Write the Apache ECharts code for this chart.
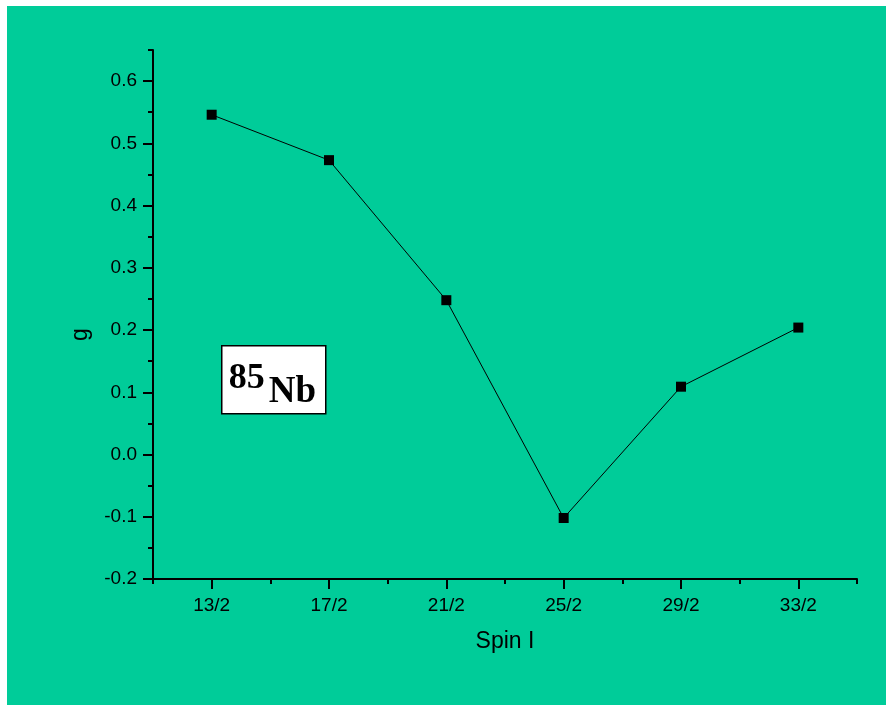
<!DOCTYPE html>
<html>
<head>
<meta charset="utf-8">
<style>
  html, body { margin: 0; padding: 0; background: #ffffff; }
  #chart { position: absolute; left: 7px; top: 6px; width: 879px; height: 699px; }
</style>
<script src="https://cdn.jsdelivr.net/npm/echarts@6/dist/echarts.min.js"></script>
</head>
<body>
<div id="chart"></div>
<script>
// ---- data ----
const categories = ['13/2', '17/2', '21/2', '25/2', '29/2', '33/2'];
const gValues = [0.546, 0.473, 0.248, -0.102, 0.109, 0.204];
const yMajorTicks = [-0.2, -0.1, 0.0, 0.1, 0.2, 0.3, 0.4, 0.5, 0.6];
const yMinorTicks = [-0.15, -0.05, 0.05, 0.15, 0.25, 0.35, 0.45, 0.55, 0.65];
const xMajorTicks = [0, 1, 2, 3, 4, 5];
const xMinorTicks = [-0.5, 0.5, 1.5, 2.5, 3.5, 4.5, 5.5];

const OX = 7, OY = 6; // chart div offset in the page
const chart = echarts.init(document.getElementById('chart'));
const FONT = 'Liberation Sans, Arial, sans-serif';

const option = {
  backgroundColor: '#00CC99',
  animation: false,
  grid: { left: 153 - OX, right: 886 - 857, top: 50 - OY, bottom: 705 - 579, containLabel: false },
  xAxis: [
    {
      type: 'value', min: -0.5, max: 5.5,
      name: 'Spin I', nameLocation: 'middle', nameGap: 51,
      nameTextStyle: { fontFamily: FONT, fontSize: 23, color: '#000' },
      axisLine: { show: true, onZero: false, lineStyle: { color: '#000', width: 2 } },
      axisTick: { show: true, length: 10, customValues: xMajorTicks, lineStyle: { color: '#000', width: 2 } },
      axisLabel: { show: true, customValues: xMajorTicks, margin: 17, fontFamily: FONT, fontSize: 19, color: '#000',
        formatter: v => categories[Math.round(v)] },
      splitLine: { show: false }
    },
    {
      type: 'value', min: -0.5, max: 5.5, position: 'bottom',
      axisLine: { show: false, onZero: false },
      axisTick: { show: true, length: 5, customValues: xMinorTicks, lineStyle: { color: '#000', width: 2 } },
      axisLabel: { show: false },
      splitLine: { show: false }
    }
  ],
  yAxis: [
    {
      type: 'value', min: -0.2, max: 0.65,
      name: 'g', nameLocation: 'middle', nameGap: 61, nameRotate: 90,
      nameTextStyle: { fontFamily: FONT, fontSize: 23, color: '#000', padding: [0, 40, 0, 0] },
      axisLine: { show: true, onZero: false, lineStyle: { color: '#000', width: 2 } },
      axisTick: { show: true, length: 10, customValues: yMajorTicks, lineStyle: { color: '#000', width: 2 } },
      axisLabel: { show: true, customValues: yMajorTicks, margin: 16, fontFamily: FONT, fontSize: 19, color: '#000',
        formatter: v => v.toFixed(1) },
      splitLine: { show: false }
    },
    {
      type: 'value', min: -0.2, max: 0.65, position: 'left',
      axisLine: { show: false, onZero: false },
      axisTick: { show: true, length: 5, customValues: yMinorTicks, lineStyle: { color: '#000', width: 2 } },
      axisLabel: { show: false },
      splitLine: { show: false }
    }
  ],
  series: [
    {
      type: 'line',
      xAxisIndex: 0, yAxisIndex: 0,
      data: gValues.map((v, i) => [i, v]),
      symbol: 'rect', symbolSize: 10,
      itemStyle: { color: '#000' },
      lineStyle: { color: '#000', width: 1 },
      z: 3
    }
  ],
  graphic: [
    {
      type: 'group', left: 221 - OX, top: 345 - OY,
      children: [
        { type: 'rect', shape: { x: 0, y: 0, width: 104, height: 68 },
          style: { fill: '#ffffff', stroke: '#000', lineWidth: 1.5 } },
        { type: 'text', x: 7, y: 15,
          style: { text: '85', font: 'bold 36px "Liberation Serif", "Times New Roman", serif', fill: '#000' } },
        { type: 'text', x: 47, y: 28,
          style: { text: 'Nb', font: 'bold 37px "Liberation Serif", "Times New Roman", serif', fill: '#000' } }
      ]
    }
  ]
};
chart.setOption(option);
</script>
</body>
</html>
